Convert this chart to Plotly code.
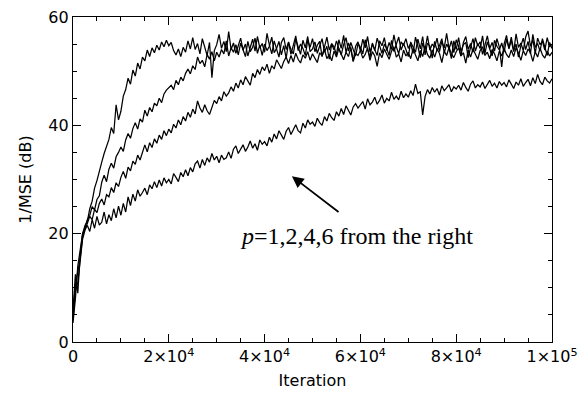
import plotly.graph_objects as go

iterations = list(range(0, 100001, 500))

p6 = [6.0, 12.5, 9.0, 16.0, 20.0, 21.5, 22.3, 24.6, 26.0, 28.4, 29.8, 31.7, 33.2, 34.8, 36.1, 37.4, 39.6, 38.5, 43.8, 41.0,
      42.6, 45.4, 46.6, 48.7, 47.6, 50.2, 49.1, 51.5, 50.4, 52.6, 51.9, 53.9, 52.7, 54.3, 53.4, 54.8, 53.9, 55.4, 54.5, 55.7,
      54.7, 55.3, 53.8, 53.0, 54.1, 52.7, 54.4, 53.5, 55.6, 54.1, 56.2, 54.0, 55.1, 53.2, 56.0, 54.4, 52.9, 55.3, 48.8, 53.8,
      54.9, 56.8, 54.2, 55.5, 53.6, 57.3, 54.0, 55.2, 53.3, 54.7, 56.1, 53.9, 55.0, 52.8, 54.6, 55.9, 53.7, 56.4, 54.3, 55.1,
      53.5, 57.0, 54.8, 53.2, 55.6, 54.1, 52.6, 55.3, 56.2, 54.0, 55.4, 53.1, 54.9, 56.5, 53.8, 55.0, 54.2, 52.9, 55.7, 54.4,
      56.0, 53.6, 54.8, 55.5, 52.7, 54.3, 56.3, 53.9, 55.1, 54.5, 53.0, 55.8, 54.2, 56.6, 53.4, 55.2, 54.0, 51.8, 54.6, 55.4,
      53.7, 55.9, 54.3, 56.4, 53.5, 55.0, 54.1, 52.9, 55.6, 54.7, 56.2, 53.8, 55.3, 54.0, 56.7, 54.5, 53.2, 55.4, 54.8, 56.0,
      54.2, 55.1, 53.3, 56.3, 54.6, 52.5, 55.2, 54.0, 56.5, 53.9, 55.0, 54.4, 56.1, 53.6, 55.5, 54.3, 57.0, 54.1, 55.6, 53.4,
      55.8, 54.6, 52.8, 55.3, 56.4, 54.0, 55.1, 53.5, 56.2, 54.7, 55.4, 53.1, 54.8, 56.5, 54.2, 55.3, 53.7, 56.0, 54.5, 50.8,
      55.0, 56.6, 54.1, 55.7, 53.6, 56.9, 54.4, 55.2, 53.8, 56.3, 57.4, 54.6, 55.8, 53.3, 56.1, 54.9, 55.5, 53.9, 56.2, 54.5,
      55.0]

p4 = [5.0, 10.5, 13.0, 15.5, 19.5, 21.0, 22.6, 23.4, 25.0, 24.4, 26.3, 27.0, 29.5, 30.8, 29.6, 31.9, 33.0, 32.1, 34.2, 35.0,
      36.0, 35.2, 37.3, 38.5, 37.6, 39.4, 40.5, 39.3, 41.2, 40.6, 42.8, 41.7, 43.3, 42.5, 44.1, 43.6, 45.0, 44.2, 45.8, 46.5,
      46.9, 47.4, 46.6, 48.3, 47.5, 48.9, 48.2, 49.6, 50.4, 49.5, 51.0, 50.3, 52.6, 51.4, 52.0, 50.8, 53.1, 52.2, 53.6, 51.9,
      53.5, 52.6, 54.0, 53.2, 55.6, 52.8, 54.3, 53.5, 54.9, 53.0, 55.2, 54.1, 52.7, 55.5, 53.6, 54.4, 56.1, 53.3, 54.8, 52.9,
      55.0, 53.8, 54.6, 56.3, 53.4, 54.2, 55.5, 53.0, 54.7, 52.4, 55.3, 54.0, 53.2, 55.9, 54.5, 53.1, 55.7, 54.3, 56.4, 53.6,
      54.1, 55.4, 53.3, 54.8, 56.0, 53.5, 54.6, 52.2, 55.0, 53.9, 55.6, 54.2, 53.0, 54.9, 56.2, 53.7, 55.3, 54.0, 52.8, 55.1,
      54.4, 53.2, 55.8, 54.0, 52.6, 55.2, 53.8, 56.1, 54.5, 53.3, 55.0, 54.2, 52.9, 55.7, 53.6, 54.8, 56.3, 53.9, 55.1, 54.0,
      52.7, 55.4, 54.3, 53.5, 55.9, 54.1, 56.4, 53.0, 55.2, 54.6, 52.4, 55.5, 53.8, 54.7, 56.0, 53.4, 55.0, 54.2, 52.3, 55.6,
      54.0, 56.2, 53.6, 54.9, 55.3, 52.5, 54.4, 56.0, 53.7, 55.1, 54.2, 56.5, 53.3, 55.4, 54.1, 52.8, 55.7, 54.6, 53.9, 55.2,
      53.5, 55.9, 54.3, 56.3, 53.8, 55.0, 52.6, 54.7, 56.1, 54.0, 55.5, 53.2, 56.8, 54.4, 55.1, 53.7, 56.0, 54.5, 52.9, 55.3,
      54.2]

p2 = [4.0, 9.5, 11.0, 14.5, 19.0, 20.6, 21.8, 23.2, 22.6, 24.5, 23.9, 25.6, 26.4, 25.3, 27.2, 26.8, 28.5, 27.6, 29.4, 28.7,
      30.4, 31.5, 30.2, 32.3, 31.6, 33.4, 32.8, 34.5, 33.6, 35.2, 36.4, 35.1, 36.8, 35.9, 37.5, 36.7, 38.2, 37.4, 39.0, 38.1,
      39.3, 38.6, 40.2, 39.5, 41.0, 40.1, 41.6, 40.8, 42.4, 41.5, 43.0, 42.1, 44.5, 43.2, 42.4, 43.8, 42.7, 42.0, 43.5, 44.6,
      44.0, 45.3, 44.5, 46.2, 45.4, 46.0, 47.1, 46.3, 47.8, 46.9, 48.4, 47.5, 49.0, 48.1, 47.4, 49.6, 48.8, 50.3, 49.4, 50.8,
      50.1, 51.3, 49.6, 51.0, 50.4, 52.1, 51.2, 50.5, 51.8, 52.6, 51.4, 52.9, 51.7, 53.3, 52.2, 51.5, 53.0, 52.4, 53.6, 52.0,
      53.2, 52.5, 51.6, 53.4, 52.8, 54.0, 52.3, 53.1, 51.9, 53.7, 52.6, 54.2, 53.0, 52.1, 53.5, 52.7, 54.4, 51.8, 53.3, 52.9,
      53.8, 52.4, 53.1, 54.3, 52.0, 53.6, 52.8, 50.9, 53.4, 52.5, 54.1, 53.0, 52.2, 53.7, 54.5, 52.6, 53.2, 51.7, 53.9, 52.8,
      53.5, 52.3, 54.2, 53.0, 51.9, 53.8, 52.7, 54.6, 53.1, 52.4, 53.9, 52.6, 54.0, 53.3, 51.6, 53.7, 52.9, 54.4, 53.2, 52.5,
      53.6, 54.3, 52.8, 53.4, 51.5, 53.9, 52.6, 54.1, 53.0, 52.2, 53.8, 54.5, 52.9, 53.5, 52.3, 54.0, 53.2, 51.9, 53.7, 52.8,
      54.2, 53.1, 52.5, 53.9, 52.7, 54.4, 53.3, 52.0, 53.8, 52.9, 54.1, 53.4, 51.8, 53.6, 52.6, 54.3, 53.0, 52.4, 53.7, 52.8,
      53.5]

p1 = [3.5, 8.0, 14.0, 17.0, 20.0, 20.8, 21.5, 20.4, 22.6, 21.0, 23.2, 21.6, 22.1, 24.0, 21.8, 23.5, 22.4, 24.6, 22.9, 25.1,
      23.4, 25.6, 24.0, 26.8, 25.2, 27.3, 26.0, 28.1, 26.9, 27.6, 28.4, 27.2, 29.0, 28.3, 29.6, 28.5, 29.9, 28.8, 30.3, 29.4,
      30.0, 29.2, 31.1, 30.4, 29.6, 31.3, 30.5, 31.8, 30.7, 32.2, 31.4, 32.9, 33.4, 32.1, 33.7, 32.6, 34.0, 33.2, 34.8, 33.6,
      34.3, 33.1, 34.5, 33.7, 34.0, 35.1, 33.9, 35.6, 36.2, 34.8, 35.5, 36.4, 35.2, 36.0, 37.1, 35.8, 36.6, 35.4, 37.3, 36.5,
      37.0, 36.2, 37.8, 36.9, 38.4, 37.5, 39.0, 38.1, 37.4, 38.9, 39.6, 38.3, 39.2, 40.1, 39.0, 38.6, 40.4, 39.5, 41.0, 40.2,
      40.6, 39.8, 41.3, 40.5, 40.0, 41.6, 40.8, 42.2, 41.4, 40.9, 42.5, 41.7, 43.1, 42.0, 43.6, 42.8, 41.9, 43.4, 44.0, 43.2,
      43.7, 44.4, 43.0, 44.9, 43.8, 44.3, 45.2, 43.9, 44.6, 45.6, 44.1, 45.0, 44.5, 46.1, 44.8, 45.4, 44.7, 46.3, 45.1, 45.8,
      45.2, 46.4, 45.5, 47.6, 45.9, 46.2, 41.9, 45.3, 46.6, 45.8, 47.0, 46.1, 46.8, 45.6, 47.3, 46.4, 46.9, 47.5, 46.2, 47.1,
      46.7, 47.4, 46.5, 47.9, 47.0, 46.3, 47.6, 48.2, 46.9, 47.5, 47.1, 48.0, 46.8, 47.7, 48.3, 47.2, 47.8, 46.9, 48.1, 47.4,
      47.9, 47.1, 48.4, 47.6, 46.8, 48.0, 47.4, 48.6, 47.2, 47.9, 48.5, 47.3, 48.8, 47.7, 49.4, 48.1, 47.5, 48.9, 48.2, 47.8,
      48.6]

series = {"p=6": p6, "p=4": p4, "p=2": p2, "p=1": p1}
for name, vals in series.items():
    if len(vals) != len(iterations):
        raise ValueError(f"{name} has {len(vals)} values, expected {len(iterations)}")

x_tick_vals = [0, 20000, 40000, 60000, 80000, 100000]
x_tick_text = ["0", "2×10<sup>4</sup>", "4×10<sup>4</sup>", "6×10<sup>4</sup>",
               "8×10<sup>4</sup>", "1×10<sup>5</sup>"]
y_tick_vals = [0, 20, 40, 60]

fig = go.Figure()
for name, vals in series.items():
    fig.add_trace(go.Scatter(x=iterations, y=vals, mode="lines", name=name,
                             line=dict(color="black", width=1.25), showlegend=False))

tick_font = dict(family="DejaVu Sans", size=16, color="black")
axis_common = dict(showline=True, linecolor="black", linewidth=1.2, mirror="allticks",
                   ticks="inside", ticklen=8, tickwidth=1.2, tickcolor="black",
                   showgrid=False, zeroline=False, tickfont=tick_font,
                   ticklabeloverflow="allow")

fig.update_xaxes(range=[0, 100000], tickmode="array", tickvals=x_tick_vals, ticktext=x_tick_text,
                 minor=dict(dtick=5000, ticks="inside", ticklen=4, tickcolor="black", tickwidth=1),
                 title=dict(text="Iteration", font=tick_font, standoff=9), **axis_common)
fig.update_yaxes(range=[0, 60], tickmode="array", tickvals=y_tick_vals,
                 minor=dict(dtick=5, ticks="inside", ticklen=4, tickcolor="black", tickwidth=1),
                 title=dict(text="1/MSE (dB)", font=tick_font, standoff=12), **axis_common)

# arrow
fig.add_annotation(x=45700, y=30.6, ax=55750, ay=23.8, xref="x", yref="y", axref="x", ayref="y",
                   text="", showarrow=True, arrowhead=2, arrowsize=1.3, arrowwidth=1.8, arrowcolor="black")
fig.add_annotation(x=59100, y=19.5, xref="x", yref="y", showarrow=False,
                   text="<i>p</i>=1,2,4,6 from the right",
                   font=dict(family="Liberation Serif", size=24, color="black"),
                   xanchor="center", yanchor="middle")

fig.update_layout(width=586, height=394, margin=dict(l=73, r=31, t=8, b=52),
                  paper_bgcolor="white", plot_bgcolor="white")

fig.write_html("out.html")
